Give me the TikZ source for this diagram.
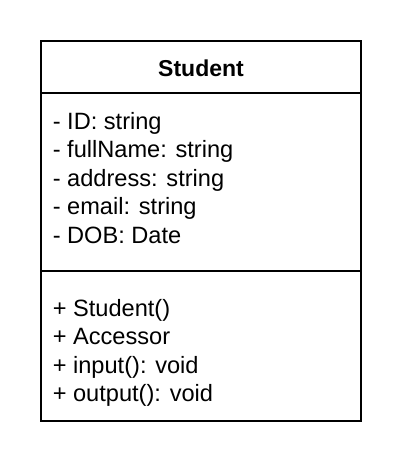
\documentclass[tikz,border=0pt]{standalone}
\usepackage{fontspec}
\setmainfont{Liberation Sans}
\begin{document}
\begin{tikzpicture}[x=1pt,y=-1pt,line cap=butt,line join=miter,line width=1.6pt]
	\tikzset{member/.style={anchor=base west,inner sep=0pt,font=\fontsize{23.6}{28}\selectfont},
		classname/.style={anchor=base,inner sep=0pt,font=\fontsize{23}{28}\selectfont\bfseries}
	}
	\useasboundingbox (0,0) rectangle (402,468);
	\draw (41,41) rectangle (361,421);
	\draw (41,93)--(361,93);
	\draw (41,271)--(361,271);
	\node[classname] (student) at (201,77) {Student};
	\foreach \txt [count=\i] in {- ID: string,- fullName: string,- address: string,- email: string,- DOB: Date}
		\node[member] (attr\i) at (52,{129+(\i-1)*28.5}) {\txt};
	\foreach \txt [count=\i] in {+ Student(),+ Accessor,+ input(): void,+ output(): void}
		\node[member] (op\i) at (52,{316+(\i-1)*28.5}) {\txt};
\end{tikzpicture}
\end{document}
